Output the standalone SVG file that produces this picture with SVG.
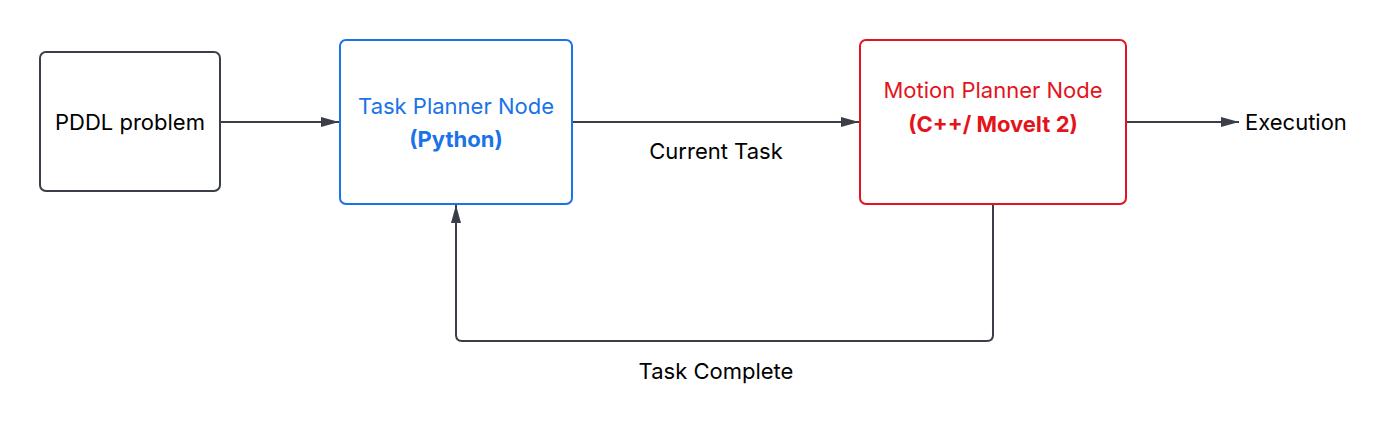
<svg xmlns="http://www.w3.org/2000/svg" width="1393" height="429" viewBox="0 0 1393 429">
<style>
text{font-family:Inter,"Noto Sans",sans-serif;font-size:22px;text-anchor:middle;dominant-baseline:central}
.box{fill:#fff;stroke-width:2}
.edge{fill:none;stroke:#3a3f47;stroke-width:2}
.b{font-weight:bold}
</style>
<defs>
<marker id="arr" viewBox="0 0 18 12" refX="18" refY="6" markerWidth="18" markerHeight="12" markerUnits="userSpaceOnUse" orient="auto" preserveAspectRatio="none">
<path d="M0,1 L18,6 L0,11 Z" fill="#3a3f47"/>
</marker>
</defs>
<rect width="1393" height="429" fill="#fff"/>
<g id="connectors">
<path class="edge" d="M220,122 H339" marker-end="url(#arr)"/>
<path class="edge" d="M572,122 H859" marker-end="url(#arr)"/>
<path class="edge" d="M1126,122 H1239" marker-end="url(#arr)"/>
<path class="edge" d="M993,204 V335 Q993,341 987,341 H462 Q456,341 456,335 V205" marker-end="url(#arr)"/>
<text x="716" y="151" fill="#000">Current Task</text>
<text x="716" y="371" fill="#000">Task Complete</text>
</g>
<g id="pddl">
<rect class="box" x="40" y="52" width="180" height="139" rx="6" stroke="#3a3f47"/>
<text x="130" y="122" fill="#000">PDDL problem</text>
</g>
<g id="task-planner">
<rect class="box" x="340" y="40" width="232" height="164" rx="6" stroke="#1a73e8"/>
<text x="456" y="106" fill="#1a73e8">Task Planner Node</text>
<text x="456" y="139" fill="#1a73e8" class="b">(Python)</text>
</g>
<g id="motion-planner">
<rect class="box" x="860" y="40" width="266" height="164" rx="6" stroke="#e3141b"/>
<text x="993" y="90" fill="#e3141b">Motion Planner Node</text>
<text x="993" y="124" fill="#e3141b" class="b">(C++/ MoveIt 2)</text>
</g>
<g id="execution">
<text x="1245" y="122" fill="#000" style="text-anchor:start">Execution</text>
</g>
</svg>
